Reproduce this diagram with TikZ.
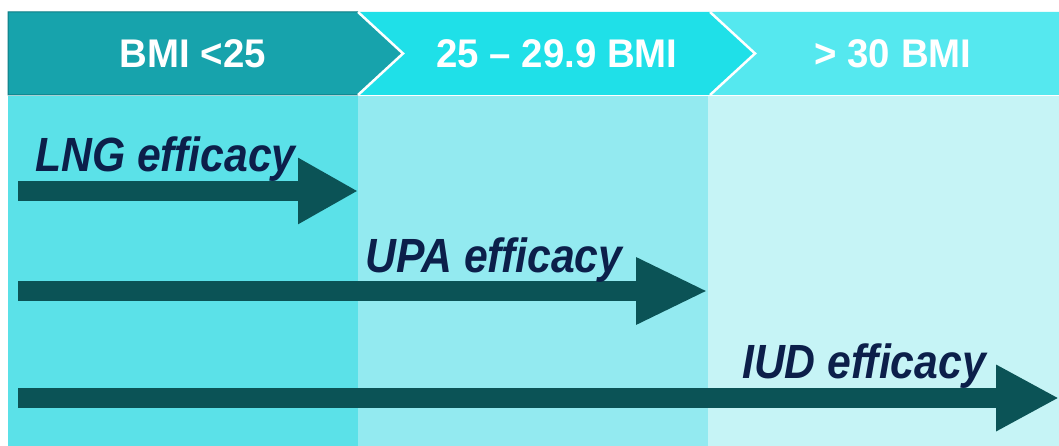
\documentclass[tikz,border=0pt]{standalone}
\usepackage{fontspec}
\setmainfont{Liberation Sans}
\newfontfamily\labelfont[FakeStretch=0.89]{Liberation Sans}
\newfontfamily\headfont[FakeStretch=0.96]{Liberation Sans}
\usetikzlibrary{arrows.meta,positioning,calc}

\definecolor{bandA}{HTML}{17A3AC}
\definecolor{bandB}{HTML}{1FE0E8}
\definecolor{bandC}{HTML}{55E8EF}
\definecolor{colA}{HTML}{5BE1E8}
\definecolor{colB}{HTML}{93EAF0}
\definecolor{colC}{HTML}{C6F4F6}
\definecolor{arrowc}{HTML}{0B5356}
\definecolor{navy}{HTML}{0C1F4A}
\definecolor{edgeA}{HTML}{0E7C85}

\begin{document}
\begin{tikzpicture}[x=1pt,y=-1pt,
  col/.style={fill=#1,draw=none,inner sep=0pt,outer sep=0pt,minimum height=350pt,anchor=north west},
  head/.style={text=white,font=\headfont\fontsize{40}{40}\selectfont\bfseries,inner sep=0pt},
  lbl/.style={text=navy,font=\labelfont\fontsize{48}{48}\selectfont\bfseries\itshape,anchor=base west,inner sep=0pt},
  sep/.style={draw=white,line width=2.5pt},
  arr/.style={-{Triangle[length=#1,width=62pt]},line width=20pt,draw=arrowc},
  arr/.default=64pt
]
  \useasboundingbox[fill=white] (0,0) rectangle (1059,446);

  % columns under the bands
  \node[col=colA,minimum width=350pt] (col1) at (8,96) {};
  \node[col=colB,minimum width=350pt] (col2) at (col1.north east) {};
  \node[col=colC,minimum width=351pt] (col3) at (col2.north east) {};

  % chevron bands
  \fill[bandA,draw=edgeA,line width=1pt] (8,12) -- (358,12) -- (403,53.5) -- (358,95) -- (8,95) -- cycle;
  \fill[bandB] (358,12) -- (710,12) -- (755,53.5) -- (710,95) -- (358,95) -- (403,53.5) -- cycle;
  \fill[bandC] (710,12) -- (1059,12) -- (1059,95) -- (710,95) -- (755,53.5) -- cycle;
  \draw[sep] (358,12) -- (403,53.5) -- (358,95);
  \draw[sep] (710,12) -- (755,53.5) -- (710,95);

  \node[head] (hd1) at (193,54) {BMI <25};
  \node[head] (hd2) at (557,54) {25 – 29.9 BMI};
  \node[head] (hd3) at (893,54) {> 30 BMI};

  % efficacy arrows
  \coordinate (s1) at (18,191);
  \coordinate (s2) at (18,291);
  \coordinate (s3) at (18,398);
  \draw[arr=60pt] (s1) -- (s1 -| col1.east);
  \draw[arr=72pt] (s2) -- (s2 -| col2.east);
  \draw[arr=63pt] (s3) -- (s3 -| col3.east);

  \node[lbl] (lng) at (35,172) {LNG efficacy};
  \node[lbl] (upa) at (365,272) {UPA efficacy};
  \node[lbl] (iud) at (742,378) {IUD efficacy};
\end{tikzpicture}
\end{document}
